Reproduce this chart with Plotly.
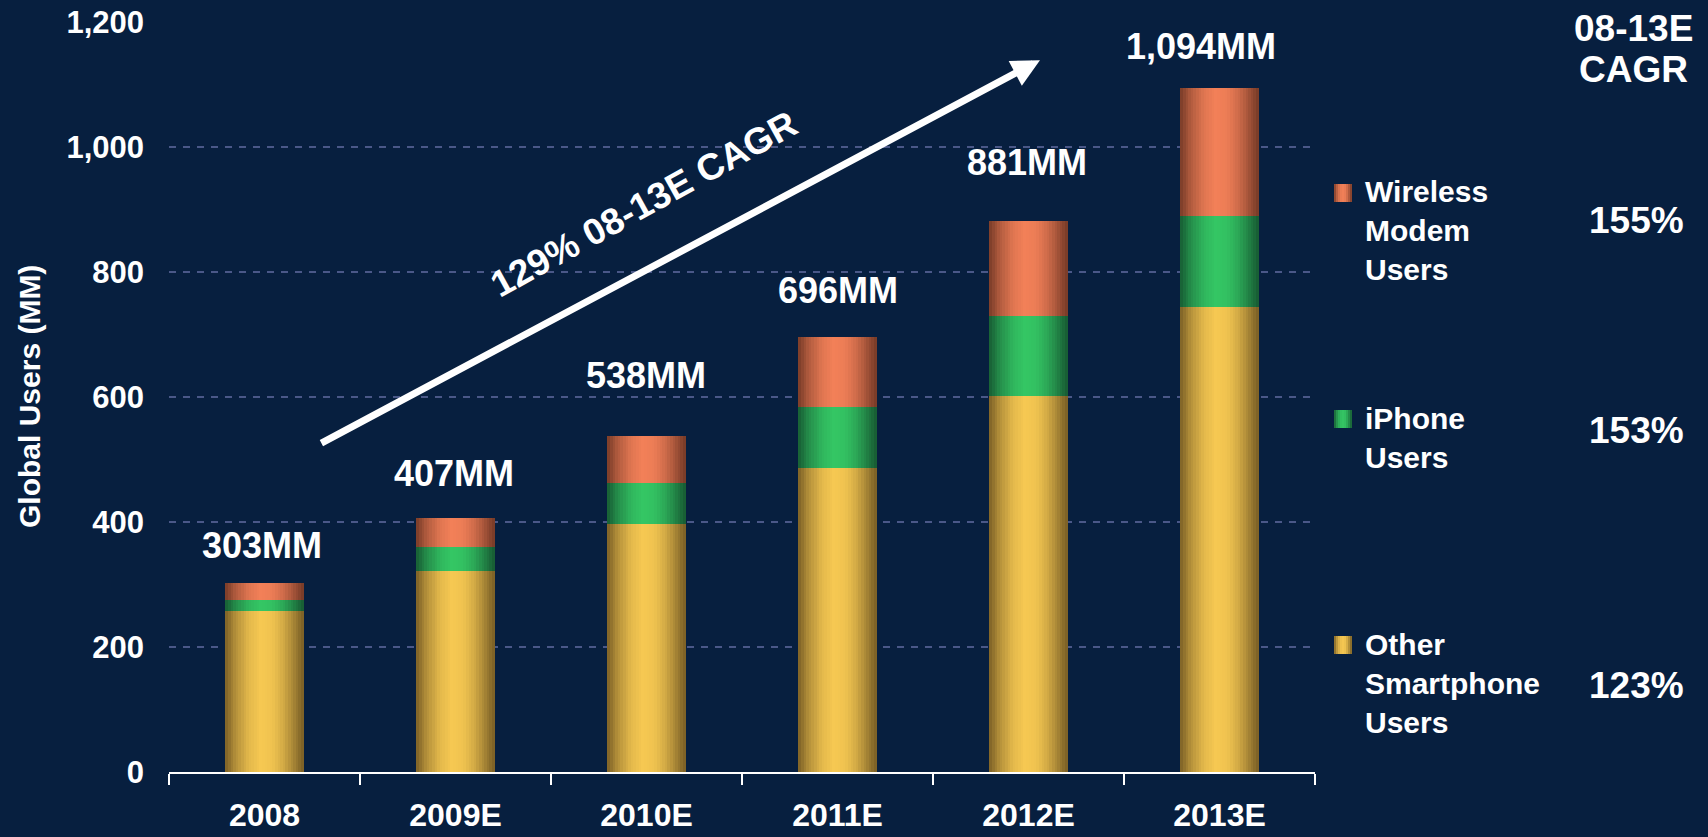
import numpy as np
import plotly.graph_objects as go

# ---- data -------------------------------------------------------------
years = ["2008", "2009E", "2010E", "2011E", "2012E", "2013E"]
other_users = [258, 322, 397, 487, 602, 744]
iphone_users = [18, 38, 65, 97, 128, 146]
modem_users = [27, 47, 76, 112, 151, 204]
totals = [303, 407, 538, 696, 881, 1094]
legend_names = ["Wireless<br>Modem<br>Users", "iPhone<br>Users", "Other<br>Smartphone<br>Users"]
cagr_values = ["155%", "153%", "123%"]
cagr_header = ["08-13E", "CAGR"]
y_ticks = [0, 200, 400, 600, 800, 1000, 1200]
trend_label = "129% 08-13E CAGR"

# ---- layout geometry (pixels) ----------------------------------------
W, H = 1708, 837
ML, MR, MT, MB = 169, 393, 22, 65
PW, PH = W - ML - MR, H - MT - MB


def px_x(px):
    return (px - ML) / PW


def px_y(py):
    return (H - MB - py) / PH


BG = "#071F3F"
FONT = "Liberation Sans, Arial, sans-serif"
BAR_W = 0.41
N_STRIPS = 30

# cylinder-like shading across each bar (0 = edge shade, 1 = highlight)
shade_t = [0.0, 0.12, 0.30, 0.45, 0.60, 0.75, 0.90, 1.0]
shade_v = [0.05, 0.45, 0.85, 1.0, 0.95, 0.70, 0.30, 0.02]

palette = {
    "other": ((246, 200, 82), (118, 92, 36)),
    "iphone": ((52, 198, 100), (22, 88, 50)),
    "modem": ((242, 128, 88), (116, 56, 38)),
}


def shade(light, dark, t):
    m = float(np.interp(t, shade_t, shade_v))
    r, g, b = (int(round(d + m * (l - d))) for l, d in zip(light, dark))
    return f"rgb({r},{g},{b})"


base_other = [0] * len(years)
base_iphone = list(other_users)
base_modem = [o + i for o, i in zip(other_users, iphone_users)]

segments = [
    (other_users, base_other, palette["other"]),
    (iphone_users, base_iphone, palette["iphone"]),
    (modem_users, base_modem, palette["modem"]),
]

fig = go.Figure()
strip = BAR_W / N_STRIPS
for values, base, (light, dark) in segments:
    for i in range(N_STRIPS):
        t = (i + 0.5) / N_STRIPS
        w = strip if i == N_STRIPS - 1 else strip * 1.25
        fig.add_trace(go.Bar(
            x=years, y=values, base=base,
            offset=-BAR_W / 2 + i * strip, width=w,
            marker=dict(color=shade(light, dark, t), line=dict(width=0)),
            showlegend=False, hoverinfo="skip",
        ))

annotations = []

# totals above each bar (category positions given by index)
label_lift = [37, 44, 60, 47, 59, 42]
label_nudge = [-3, -2, -1, 0, -2, -19]
for idx, (tot, lift, nudge) in enumerate(zip(totals, label_lift, label_nudge)):
    annotations.append(dict(
        x=idx, y=tot, xref="x", yref="y", text=f"{tot:,}MM", showarrow=False,
        xanchor="center", yanchor="middle", yshift=lift, xshift=nudge,
        font=dict(family=FONT, size=36, color="white", weight="bold"),
    ))

# trend arrow and its label
arrow_tail = (0.29, 525)
arrow_tip = (4.06, 1139)
annotations.append(dict(
    x=arrow_tip[0], y=arrow_tip[1], ax=arrow_tail[0], ay=arrow_tail[1],
    xref="x", yref="y", axref="x", ayref="y", text="", showarrow=True,
    arrowhead=2, arrowsize=0.8, arrowwidth=7, arrowcolor="white", standoff=0,
))
annotations.append(dict(
    x=px_x(643), y=px_y(204), xref="paper", yref="paper", text=trend_label,
    showarrow=False, textangle=-29, xanchor="center", yanchor="middle",
    font=dict(family=FONT, size=37, color="white", weight="bold"),
))

# y-axis title
annotations.append(dict(
    x=px_x(29), y=px_y(397), xref="paper", yref="paper", text="Global Users (MM)",
    showarrow=False, textangle=-90, xanchor="center", yanchor="middle",
    font=dict(family=FONT, size=30, color="white", weight="bold"),
))

# legend text and growth column
legend_centers = [231, 438, 683]
legend_tops = [184, 410, 636]
cagr_centers = [221, 430, 685]
for name, cy in zip(legend_names, legend_centers):
    annotations.append(dict(
        x=px_x(1363), y=px_y(cy), xref="paper", yref="paper", text=name,
        showarrow=False, xanchor="left", yanchor="middle", align="left",
        font=dict(family=FONT, size=30, color="white", weight="bold"),
    ))
for val, cy in zip(cagr_values, cagr_centers):
    annotations.append(dict(
        x=px_x(1636), y=px_y(cy), xref="paper", yref="paper", text=val,
        showarrow=False, xanchor="center", yanchor="middle",
        font=dict(family=FONT, size=37, color="white", weight="bold"),
    ))
for txt, cy in zip(cagr_header, [28, 70]):
    annotations.append(dict(
        x=px_x(1634), y=px_y(cy), xref="paper", yref="paper", text=txt,
        showarrow=False, xanchor="center", yanchor="middle",
        font=dict(family=FONT, size=37, color="white", weight="bold"),
    ))

# legend swatches with the same shading as the bars
shapes = []
swatch_cols = [palette["modem"], palette["iphone"], palette["other"]]
SW_X0, SW_SIZE, SW_N = 1334, 18, 9
for (light, dark), top in zip(swatch_cols, legend_tops):
    for i in range(SW_N):
        x0 = SW_X0 + i * SW_SIZE / SW_N
        x1 = SW_X0 + (i + 1) * SW_SIZE / SW_N + (0.4 if i < SW_N - 1 else 0)
        shapes.append(dict(
            type="rect", xref="paper", yref="paper",
            x0=px_x(x0), x1=px_x(x1), y0=px_y(top + SW_SIZE), y1=px_y(top),
            fillcolor=shade(light, dark, (i + 0.5) / SW_N), line=dict(width=0),
        ))

fig.update_layout(
    width=W, height=H,
    margin=dict(l=ML, r=MR, t=MT, b=MB, pad=0, autoexpand=False),
    paper_bgcolor=BG, plot_bgcolor=BG,
    barmode="overlay", bargap=0,
    showlegend=False,
    annotations=annotations, shapes=shapes,
    xaxis=dict(
        type="category", range=[-0.5, len(years) - 0.5], automargin=False,
        showline=True, linecolor="white", linewidth=2,
        ticks="outside", tickson="boundaries", ticklen=11, tickwidth=2, tickcolor="white",
        showgrid=False, zeroline=False, ticklabelstandoff=14,
        tickfont=dict(family=FONT, size=32, color="white", weight="bold"),
    ),
    yaxis=dict(
        range=[0, 1200], tickvals=y_ticks, tickformat=",", automargin=False,
        showline=False, ticks="", zeroline=False, ticklabelstandoff=24,
        showgrid=True, gridcolor="#4A5888", gridwidth=1.5, griddash="7px,7px",
        tickfont=dict(family=FONT, size=31, color="white", weight="bold"),
    ),
)

# the figure fills the page edge to edge
fig.write_html(
    "out.html",
    post_script="document.body.style.margin='0';document.body.style.background='%s';" % BG,
)
